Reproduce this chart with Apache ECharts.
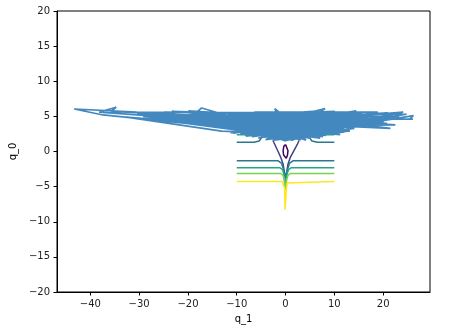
<!DOCTYPE html>
<html>
<head>
<meta charset="utf-8">
<script src="https://cdn.jsdelivr.net/npm/echarts@6/dist/echarts.min.js"></script>
<style>
html, body { margin: 0; padding: 0; background: #fff; }
#chart { width: 452px; height: 333px; }
</style>
</head>
<body>
<div id="chart"></div>
<script>
// tick labels
var xTicks = [-40, -30, -20, -10, 0, 10, 20]
var yTicks = [-20, -15, -10, -5, 0, 5, 10, 15, 20]

// contour pieces (q_1, q_0)
var contourPurple = [[0, 1.0], [0.35, 0.75], [0.5, 0.1], [0.4, -0.5], [0.15, -0.95], [0, -1.0], [-0.15, -0.95], [-0.4, -0.5], [-0.5, 0.1], [-0.35, 0.75], [0, 1.0]]
var contourIndigo = [[-2.6, 1.6], [-2.2, 1.0], [-1.6, 0.1], [-1.0, -0.8], [-0.5, -1.8], [-0.25, -2.9], [-0.1, -3.8], [0.1, -3.8], [0.25, -2.9], [0.5, -1.8], [1.0, -0.8], [1.7, 0.1], [2.4, 1.0], [2.8, 1.6]]
var contourBlueLow = [[-10, -1.33], [-1.5, -1.33], [-0.8, -1.7], [-0.4, -2.6], [-0.2, -4.0], [0.2, -4.0], [0.4, -2.6], [0.8, -1.7], [1.5, -1.33], [10, -1.33]]
var contourBlueUpL = [[-10, 1.33], [-6.5, 1.33], [-5.4, 1.5], [-4.9, 2.0], [-4.6, 2.6]]
var contourBlueUpR = [[4.6, 2.6], [4.9, 2.0], [5.4, 1.5], [6.5, 1.33], [10, 1.33]]
var contourTealLow = [[-10, -2.3], [-1.2, -2.3], [-0.6, -2.6], [-0.3, -3.3], [-0.15, -4.8], [0.15, -4.8], [0.3, -3.3], [0.6, -2.6], [1.2, -2.3], [10, -2.3]]
var contourTealUpL = [[-10, 2.37], [-7.2, 2.37], [-6.4, 2.6], [-6.0, 3.2]]
var contourTealUpR = [[6.0, 3.2], [6.4, 2.6], [7.2, 2.37], [10, 2.37]]
var contourGreenLow = [[-10, -3.13], [-1.0, -3.13], [-0.5, -3.4], [-0.25, -4.0], [-0.12, -5.5], [0.12, -5.5], [0.25, -4.0], [0.5, -3.4], [1.0, -3.13], [10, -3.13]]
var contourYellowLow = [[-10, -4.27], [-0.7, -4.27], [-0.35, -4.5], [-0.2, -5.2], [-0.1, -8.3], [0.1, -8.3], [0.2, -5.2], [0.35, -4.5], [0.7, -4.27], [10, -4.27]]

// sampler trajectory, hand read
var trajectory = [
  [2.1, 3.4], [-6.3, 4.7], [8.5, 2.6], [-3.2, 1.8], [11.8, 4.9], [-9.4, 3.1], [4.6, 5.4], [-12.7, 4.5], [1.3, 1.6], [15.2, 5.1],
  [-5.1, 2.3], [6.8, 4.2], [-14.6, 5.3], [3.7, 2.0], [-1.8, 5.4], [-2.2, 6.1], [-0.6, 5.2], [9.9, 3.3], [-7.8, 2.6], [13.4, 4.4],
  [-10.6, 5.1], [0.4, 2.7], [18.3, 5.3], [-4.4, 4.1], [7.1, 1.9], [-16.2, 4.1], [2.8, 4.6], [-8.7, 5.5], [12.1, 2.8], [-2.5, 1.6],
  [20.4, 4.8], [-6.1, 3.6], [5.3, 5.6], [-19.5, 5.4], [-0.9, 3.0], [14.8, 3.9], [-11.3, 2.7], [8.1, 6.1], [6.6, 5.5], [-13.9, 3.6],
  [3.2, 1.7], [-24.8, 5.6], [10.7, 5.2], [-3.7, 2.9], [16.9, 3.7], [-7.2, 5.0], [1.9, 2.3], [-17.2, 6.2], [-18.8, 5.2], [9.3, 4.0],
  [-5.6, 1.9], [22.4, 5.3], [-9.8, 4.4], [4.1, 3.0], [-28.3, 5.5], [11.6, 3.6], [-1.4, 4.8], [19.1, 4.1], [-12.4, 3.3], [6.2, 2.2],
  [-21.6, 4.3], [0.8, 5.5], [15.6, 5.4], [-8.3, 2.3], [13.2, 2.9], [-4.8, 5.5], [21.5, 3.3], [2.6, 3.9], [-30.4, 5.3], [-15.8, 5.0],
  [7.9, 3.1], [-0.3, 1.5], [24.1, 5.6], [-10.1, 3.7], [5.7, 4.4], [-35.8, 5.7], [-34.7, 6.3], [-38.2, 5.6], [-26.1, 5.0], [9.6, 2.5],
  [-6.7, 4.3], [17.8, 5.0], [-2.9, 2.5], [8.8, 5.5], [-30.5, 5.6], [-43.3, 6.05], [-37.4, 5.2], [-20.3, 4.0], [3.9, 1.8], [-11.9, 5.4], [20.2, 4.3],
  [-1.1, 2.0], [26.2, 5.1], [25.4, 4.6], [26.1, 4.6], [16.3, 4.6], [-7.5, 3.5], [10.4, 2.6], [-14.2, 4.9], [1.6, 4.2], [-23.3, 5.7],
  [8.7, 5.0], [-4.1, 1.7], [14.1, 3.3], [-9.1, 5.2], [22.5, 3.8], [-0.2, 3.6], [-17.8, 4.5], [6.9, 5.8], [-3.4, 4.4], [11.2, 2.4],
  [-32.6, 4.9], [-13.1, 2.9], [4.8, 2.4], [-6.4, 5.6], [18.9, 5.6], [-1.7, 3.3], [-27.4, 4.4], [9.1, 3.7], [-5.9, 2.8], [15.9, 4.3],
  [-11.0, 4.1], [2.3, 5.2], [23.3, 4.9], [-8.1, 2.2], [12.5, 4.1], [-15.3, 3.8], [5.1, 1.9], [-2.0, 5.0], [-19.9, 5.8], [7.6, 2.8],
  [-4.6, 3.4], [17.1, 4.9], [-10.8, 2.6], [0.1, 4.6], [21.0, 5.5], [-7.0, 4.5], [3.4, 2.6], [-22.5, 4.9], [10.1, 5.7], [-3.0, 2.0],
  [13.8, 3.6], [-12.9, 5.2], [6.4, 3.5], [-0.7, 1.6], [16.6, 5.2], [-8.9, 3.9], [4.4, 4.9], [-16.8, 4.3], [1.0, 3.1], [11.0, 4.6],
  [-5.3, 5.2], [8.3, 2.3], [-13.6, 4.0], [19.7, 4.6], [-3.9, 3.8], [14.5, 5.8], [-9.6, 2.9], [5.9, 3.3], [-25.5, 4.7], [2.9, 5.6],
  [-6.9, 2.1], [12.3, 3.8], [-1.5, 4.2], [18.0, 4.5], [-11.5, 4.8], [7.3, 4.7], [-4.3, 2.6], [9.8, 5.4], [-14.9, 3.5], [0.6, 2.1],
  [-8.5, 4.8], [4.2, 1.6], [-2.6, 4.9], [13.0, 4.7], [-10.3, 3.4], [1.5, 5.0], [-5.7, 2.5], [8.9, 4.3], [-1.3, 2.6], [17.5, 4.0],
  [-12.1, 4.3], [5.5, 2.9], [-3.6, 5.3], [10.9, 3.0], [-7.7, 3.0], [2.4, 1.9], [-18.3, 4.8], [6.1, 5.1], [-0.4, 2.3], [14.3, 4.5],
  [-9.3, 2.5], [3.0, 3.6], [-6.0, 5.4], [20.8, 4.0], [-2.3, 3.5], [7.7, 2.1], [-15.1, 4.4], [0.3, 5.0], [11.9, 3.2], [-4.9, 2.0],
  [24.8, 5.3], [-8.0, 5.1], [5.0, 3.8], [-1.9, 1.8], [9.4, 4.8], [-13.3, 4.6], [3.5, 2.2], [-29.2, 5.0], [-6.6, 3.2], [15.4, 3.6],
  [-0.8, 4.4], [7.0, 3.6], [-10.5, 4.6], [1.2, 1.8], [12.7, 5.3], [-4.0, 4.7], [6.0, 2.6], [-2.7, 2.2], [18.6, 5.2], [-7.4, 4.1]
]

var contourColors = ['#440154', '#414487', '#2a788e', '#22a884', '#7ad151', '#fde725']
var contourPieces = [
  [contourPurple],
  [contourIndigo],
  [contourBlueLow, contourBlueUpL, contourBlueUpR],
  [contourTealLow, contourTealUpL, contourTealUpR],
  [contourGreenLow],
  [contourYellowLow]
]

function fmt(v) {
  return v < 0 ? '\u2212' + Math.abs(v) : String(v)
}

var series = []
for (var i = 0; i < contourPieces.length; i++) {
  for (var j = 0; j < contourPieces[i].length; j++) {
    series.push({
      type: 'line',
      data: contourPieces[i][j],
      showSymbol: false,
      lineStyle: { color: contourColors[i], width: 1.5 },
      z: 2 + i
    })
  }
}
series.push({
  type: 'line',
  data: trajectory,
  showSymbol: false,
  lineStyle: { color: '#4389c0', width: 1.7 },
  z: 10
})

var myChart = echarts.init(document.getElementById('chart'))
var option = {
  animation: false,
  textStyle: { fontFamily: 'DejaVu Sans' },
  grid: {
    left: 53, right: 22, top: 11, bottom: 41,
    show: true, borderColor: '#000', borderWidth: 1, backgroundColor: 'transparent'
  },
  xAxis: {
    type: 'value',
    min: -46.83,
    max: 29.6,
    name: 'q_1',
    nameLocation: 'middle',
    nameGap: 22,
    nameTextStyle: { fontSize: 10, color: '#000', fontFamily: 'DejaVu Sans' },
    splitLine: { show: false },
    axisLine: { show: true, onZero: false, lineStyle: { color: '#000', width: 1 } },
    axisTick: { show: true, length: 3.5, lineStyle: { color: '#000' }, customValues: xTicks },
    axisLabel: { fontSize: 10, color: '#222', margin: 7, customValues: xTicks, formatter: fmt }
  },
  yAxis: {
    type: 'value',
    min: -20,
    max: 20,
    interval: 5,
    name: 'q_0',
    nameLocation: 'middle',
    nameGap: 31,
    nameTextStyle: { fontSize: 10, color: '#000', fontFamily: 'DejaVu Sans' },
    splitLine: { show: false },
    axisLine: { show: true, onZero: false, lineStyle: { color: '#000', width: 1 } },
    axisTick: { show: true, length: 3.5, lineStyle: { color: '#000' } },
    axisLabel: { fontSize: 10, color: '#222', margin: 7, formatter: fmt }
  },
  series: series
}
myChart.setOption(option)
</script>
</body>
</html>
